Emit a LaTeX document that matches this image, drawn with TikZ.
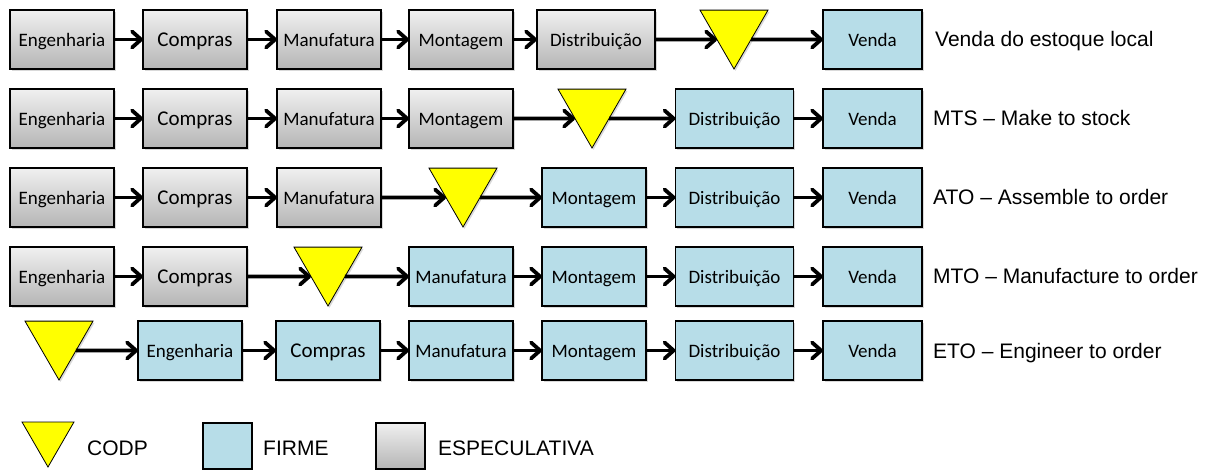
\documentclass[tikz,border=0pt]{standalone}
\usepackage{fontspec}
\setmainfont{Liberation Sans}
\newfontfamily\boxfont{Carlito}
\usetikzlibrary{shapes.geometric,arrows.meta,shadows,calc}

\definecolor{firmblue}{HTML}{B7DDE8}
\definecolor{codpyellow}{HTML}{FFFF00}

\tikzset{
  stage/.style={draw=black, line width=1.2pt, minimum height=59pt,
    inner sep=0pt, outer sep=0pt, text height=13.4pt, text depth=0pt,
    font=\boxfont\fontsize{19}{21}\selectfont},
  shadowed/.style={drop shadow={shadow xshift=1.5pt, shadow yshift=-1.8pt, opacity=0.3}},
  spec/.style={stage, shadowed, top color=white!94!black, bottom color=white!71!black},
  firm/.style={stage, shadowed, fill=firmblue},
  w104/.style={minimum width=104pt},
  w118/.style={minimum width=118pt},
  w99/.style={minimum width=99pt},
  bigtext/.style={font=\boxfont\fontsize{21}{23}\selectfont, text height=14.6pt, text depth=0pt},
  codp/.style={regular polygon, regular polygon sides=3, shape border rotate=180,
    minimum size=78.5pt, inner sep=0pt, outer sep=0pt, draw=black,
    line width=0.8pt, fill=codpyellow},
  flow/.style={line width=3.8pt, -{Straight Barb[length=9pt,width=16pt,round]}},
  rowlabel/.style={anchor=base west, inner sep=0pt, font=\fontsize{21}{25}\selectfont},
  keybox/.style={draw=black, line width=1.2pt, minimum width=49pt, minimum height=46pt,
    inner sep=0pt, outer sep=0pt},
}

\begin{document}
\begin{tikzpicture}[x=1pt, y=-1pt]
\useasboundingbox (0,0) rectangle (1210,470);

% ---- Row 1: venda do estoque local ----
\node[spec, w104] (a1) at (62,39.5) {Engenharia};
\node[spec, w104, bigtext] (b1) at (195,39.5) {Compras};
\node[spec, w104] (c1) at (329,39.5) {Manufatura};
\node[spec, w104] (d1) at (461,39.5) {Montagem};
\node[spec, w118] (e1) at (596,39.5) {Distribuição};
\node[codp, shadowed, anchor=corner 1] (t1) at (734,69) {};
\node[firm, w99] (f1) at (872.5,39.5) {Venda};
\node[rowlabel] (l1) at (935,47) {Venda do estoque local};

% ---- Row 2: MTS ----
\node[spec, w104] (a2) at (62,118.5) {Engenharia};
\node[spec, w104, bigtext] (b2) at (195,118.5) {Compras};
\node[spec, w104] (c2) at (329,118.5) {Manufatura};
\node[spec, w104] (d2) at (461,118.5) {Montagem};
\node[codp, shadowed, anchor=corner 1] (t2) at (592,148) {};
\node[firm, w118] (e2) at (734.5,118.5) {Distribuição};
\node[firm, w99] (f2) at (872.5,118.5) {Venda};
\node[rowlabel] (l2) at (933,126) {MTS – Make to stock};

% ---- Row 3: ATO ----
\node[spec, w104] (a3) at (62,197.5) {Engenharia};
\node[spec, w104, bigtext] (b3) at (195,197.5) {Compras};
\node[spec, w104] (c3) at (329,197.5) {Manufatura};
\node[codp, shadowed, anchor=corner 1] (t3) at (463,227) {};
\node[firm, w104] (d3) at (594,197.5) {Montagem};
\node[firm, w118] (e3) at (734.5,197.5) {Distribuição};
\node[firm, w99] (f3) at (872.5,197.5) {Venda};
\node[rowlabel] (l3) at (933,205) {ATO – Assemble to order};

% ---- Row 4: MTO ----
\node[spec, w104] (a4) at (62,276.5) {Engenharia};
\node[spec, w104, bigtext] (b4) at (195,276.5) {Compras};
\node[codp, shadowed, anchor=corner 1] (t4) at (328,306) {};
\node[firm, w104] (c4) at (461,276.5) {Manufatura};
\node[firm, w104] (d4) at (594,276.5) {Montagem};
\node[firm, w118] (e4) at (734.5,276.5) {Distribuição};
\node[firm, w99] (f4) at (872.5,276.5) {Venda};
\node[rowlabel] (l4) at (933,284) {MTO – Manufacture to order};

% ---- Row 5: ETO ----
\node[codp, shadowed, anchor=corner 1] (t5) at (59,380) {};
\node[firm, w104] (a5) at (190,350.5) {Engenharia};
\node[firm, w104, bigtext] (b5) at (328,350.5) {Compras};
\node[firm, w104] (c5) at (461,350.5) {Manufatura};
\node[firm, w104] (d5) at (594,350.5) {Montagem};
\node[firm, w118] (e5) at (734.5,350.5) {Distribuição};
\node[firm, w99] (f5) at (872.5,350.5) {Venda};
\node[rowlabel] (l5) at (933,358) {ETO – Engineer to order};

% entry and exit points on the slanted sides of each decoupling triangle
\foreach \t in {t1,t2,t3,t4,t5}{
  \coordinate (\t in) at ($(\t.corner 3)!0.5!(\t.corner 1)$);
  \coordinate (\t out) at ($(\t.corner 2)!0.5!(\t.corner 1)$);
}

% ---- flow arrows ----
\draw[flow] (a1.east) -- (b1.west);
\draw[flow] (b1.east) -- (c1.west);
\draw[flow] (c1.east) -- (d1.west);
\draw[flow] (d1.east) -- (e1.west);
\draw[flow] (e1.east) -- (t1in);
\draw[flow] (t1out) -- (f1.west);

\draw[flow] (a2.east) -- (b2.west);
\draw[flow] (b2.east) -- (c2.west);
\draw[flow] (c2.east) -- (d2.west);
\draw[flow] (d2.east) -- (t2in);
\draw[flow] (t2out) -- (e2.west);
\draw[flow] (e2.east) -- (f2.west);

\draw[flow] (a3.east) -- (b3.west);
\draw[flow] (b3.east) -- (c3.west);
\draw[flow] (c3.east) -- (t3in);
\draw[flow] (t3out) -- (d3.west);
\draw[flow] (d3.east) -- (e3.west);
\draw[flow] (e3.east) -- (f3.west);

\draw[flow] (a4.east) -- (b4.west);
\draw[flow] (b4.east) -- (t4in);
\draw[flow] (t4out) -- (c4.west);
\draw[flow] (c4.east) -- (d4.west);
\draw[flow] (d4.east) -- (e4.west);
\draw[flow] (e4.east) -- (f4.west);

\draw[flow] (t5out) -- (a5.west);
\draw[flow] (a5.east) -- (b5.west);
\draw[flow] (b5.east) -- (c5.west);
\draw[flow] (c5.east) -- (d5.west);
\draw[flow] (d5.east) -- (e5.west);
\draw[flow] (e5.east) -- (f5.west);

% ---- legend ----
\node[codp, minimum size=60pt, anchor=corner 1] (kt) at (48,467) {};
\node[rowlabel] (ktl) at (87,455) {CODP};
\node[keybox, fill=firmblue, anchor=north west] (kf) at (203,423) {};
\node[rowlabel] (kfl) at (263,455) {FIRME};
\node[keybox, top color=white!94!black, bottom color=white!71!black, anchor=north west] (ks) at (376,423) {};
\node[rowlabel] (ksl) at (438,455) {ESPECULATIVA};
\end{tikzpicture}
\end{document}
